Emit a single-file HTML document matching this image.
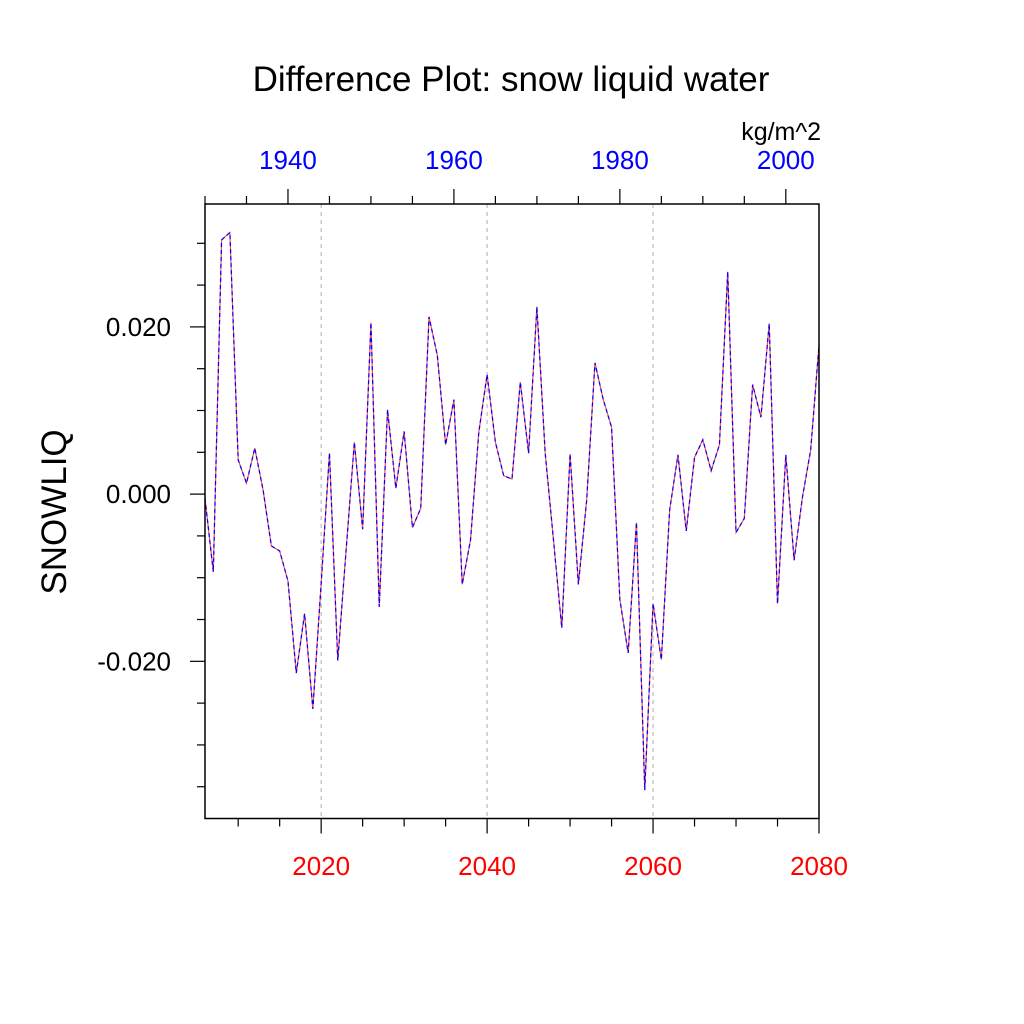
<!DOCTYPE html>
<html><head><meta charset="utf-8"><style>
html,body{margin:0;padding:0;background:#fff;}
svg{display:block;font-family:"Liberation Sans",sans-serif;}
</style></head><body>
<svg id="chart" width="1024" height="1024" viewBox="0 0 1024 1024" xmlns="http://www.w3.org/2000/svg">
<rect width="1024" height="1024" fill="#fff"/>
<text x="511" y="91" font-size="35" text-anchor="middle">Difference Plot: snow liquid water</text>
<text x="821" y="140" font-size="25" text-anchor="end">kg/m^2</text>
<text transform="translate(66,512) rotate(-90)" font-size="35" text-anchor="middle">SNOWLIQ</text>
<g id="grid"></g>
<g id="series"></g>
<g id="axes"></g>
</svg>
<script>
const years = [];
for (let y = 2006; y <= 2080; y++) years.push(y);
const values = [-0.0005,-0.0093,0.0304,0.0313,0.0041,0.0013,0.0055,0.0005,-0.0062,-0.0068,
-0.0104,-0.0214,-0.0143,-0.0257,-0.0107,0.0049,-0.0199,-0.0068,0.0062,-0.0042,
0.0205,-0.0135,0.0101,0.0007,0.0075,-0.0040,-0.0017,0.0212,0.0166,0.0059,
0.0113,-0.0108,-0.0055,0.0074,0.0143,0.0062,0.0022,0.0018,0.0134,0.0049,
0.0224,0.0049,-0.0055,-0.0160,0.0048,-0.0108,-0.0007,0.0157,0.0113,0.0080,
-0.0126,-0.0190,-0.0034,-0.0354,-0.0131,-0.0198,-0.0019,0.0047,-0.0044,0.0044,
0.0065,0.0028,0.0059,0.0266,-0.0046,-0.0029,0.0131,0.0092,0.0204,-0.0131,
0.0047,-0.0079,-0.0004,0.0053,0.0178];
const bottomTicks = [2020, 2040, 2060, 2080];
const topTicks = [1940, 1960, 1980, 2000];
const yTicks = [-0.02, 0.0, 0.02];
const yTickLabels = ["-0.020", "0.000", "0.020"];

const NS = "http://www.w3.org/2000/svg";
const L = 205, R = 819, T = 204, B = 818.5;
const xMin = 2006, xMax = 2080, yMin = -0.0388, yMax = 0.0347;
const xs = v => L + (v - xMin) / (xMax - xMin) * (R - L);
const xsTop = v => xs(v + 76);
const ys = v => B - (v - yMin) / (yMax - yMin) * (B - T);
function mk(tag, attrs, parent) {
  const e = document.createElementNS(NS, tag);
  for (const k in attrs) e.setAttribute(k, attrs[k]);
  parent.appendChild(e);
  return e;
}
const grid = document.getElementById('grid');
const axes = document.getElementById('axes');
const series = document.getElementById('series');

[2020, 2040, 2060].forEach(v => {
  const g = mk('line', {x1: xs(v), x2: xs(v), y1: T, y2: B, stroke: '#bbb', 'stroke-width': 1.2, 'stroke-dasharray': '4 4'}, grid);
  
  
});

const pts = years.map((y, i) => xs(y).toFixed(2) + ',' + ys(values[i]).toFixed(2)).join(' ');
const red = mk('polyline', {points: pts, fill: 'none', stroke: '#ff5050', 'stroke-width': 1.2}, series);


const blue = mk('polyline', {points: pts, fill: 'none', stroke: '#0000ff', 'stroke-width': 1.2, 'stroke-dasharray': '4 3'}, series);



const frame = mk('rect', {x: L, y: T, width: R - L, height: B - T, fill: 'none', stroke: '#000', 'stroke-width': 1.5}, axes);



for (let v = 2010; v <= 2080; v += 5) {
  const major = v % 20 === 0;
  const t = mk('line', {x1: xs(v), x2: xs(v), y1: B, y2: B + (major ? 15 : 8), stroke: '#000', 'stroke-width': 1.2}, axes);
  
  
}
bottomTicks.forEach(v => {
  const t = mk('text', {x: xs(v), y: 875, 'font-size': 26, fill: '#ff0000', 'text-anchor': 'middle'}, axes);
  t.textContent = v;
  
  
});
for (let v = 1930; v <= 2000; v += 5) {
  const major = v % 20 === 0;
  const t = mk('line', {x1: xsTop(v), x2: xsTop(v), y1: T, y2: T - (major ? 15 : 8), stroke: '#000', 'stroke-width': 1.2}, axes);
  
  
}
topTicks.forEach(v => {
  const t = mk('text', {x: xsTop(v), y: 169, 'font-size': 26, fill: '#0000ff', 'text-anchor': 'middle'}, axes);
  t.textContent = v;
  
  
});
for (let k = -7; k <= 6; k++) {
  const v = k * 0.005;
  const major = k % 4 === 0;
  const t = mk('line', {x1: L, x2: L - (major ? 15 : 8), y1: ys(v), y2: ys(v), stroke: '#000', 'stroke-width': 1.2}, axes);
  
  
}
yTicks.forEach((v, i) => {
  const t = mk('text', {x: 171, y: ys(v) + 9, 'font-size': 26, fill: '#000', 'text-anchor': 'end'}, axes);
  t.textContent = yTickLabels[i];
  
  
});
</script>
</body></html>
